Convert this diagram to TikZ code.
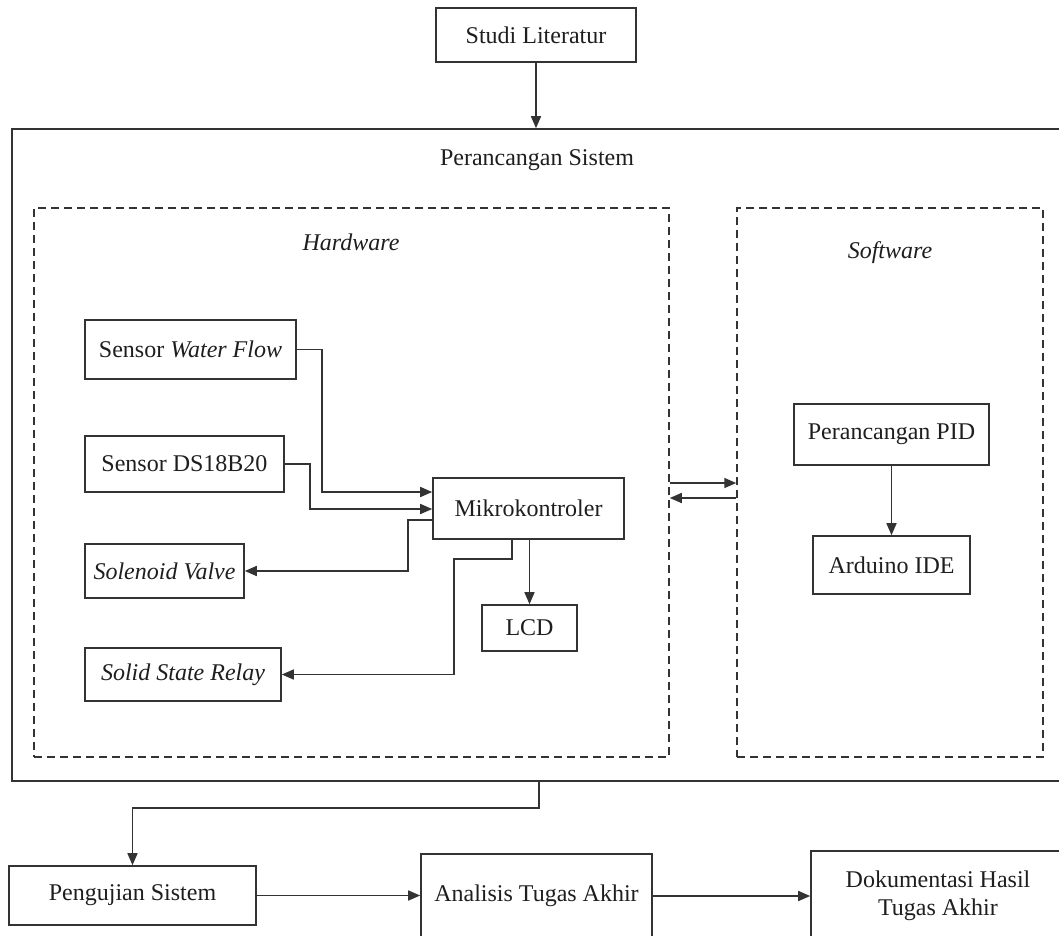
\documentclass[tikz,border=0pt]{standalone}
\usepackage{fontspec}
\setmainfont{Liberation Serif}
\usetikzlibrary{arrows.meta}
\definecolor{linec}{HTML}{333333}
\definecolor{textc}{HTML}{1E1E1E}
\tikzset{
  blk/.style={draw=linec, line width=1.6pt, inner sep=0pt, text=textc, align=center},
  grp/.style={draw=linec, line width=1.5pt, dash pattern=on 8pt off 5pt, inner sep=0pt},
  lbl/.style={inner sep=0pt, text=textc},
  arr/.style={draw=linec, line width=1.6pt, -{Triangle[length=12pt,width=10pt]}}
}
\begin{document}
\begin{tikzpicture}[x=1pt,y=-1pt,font=\fontsize{24}{28}\selectfont]
\useasboundingbox (0,0) rectangle (1059,935);
% top
\node[blk, minimum width=200pt, minimum height=54pt] (studi) at (536,35) {Studi Literatur};
% outer system box
\node[blk, minimum width=1050pt, minimum height=652pt] (sys) at (537,455) {};
\node[lbl] (systitle) at (537,160) {Perancangan Sistem};
% groups
\node[grp, minimum width=635pt, minimum height=549pt] (hw) at (351.5,482.5) {};
\node[grp, minimum width=306pt, minimum height=549pt] (sw) at (890,482.5) {};
\node[lbl] (hwt) at (351,242) {\itshape Hardware};
\node[lbl] (swt) at (890,253) {\itshape Software};
% hardware blocks
\node[blk, minimum width=211pt, minimum height=59pt] (wf) at (190.5,349.5) {Sensor \textit{Water Flow}};
\node[blk, minimum width=199pt, minimum height=56pt] (ds) at (184.5,464) {Sensor DS18B20};
\node[blk, minimum width=159pt, minimum height=54pt] (sv) at (164.5,571) {\textit{Solenoid Valve}};
\node[blk, minimum width=196pt, minimum height=53pt] (ssr) at (183,674.5) {\textit{Solid State Relay}};
\node[blk, minimum width=191pt, minimum height=61pt] (mk) at (528.5,508.5) {Mikrokontroler};
\node[blk, minimum width=95pt, minimum height=46pt] (lcd) at (529.5,628) {LCD};
% software blocks
\node[blk, minimum width=195pt, minimum height=61pt] (pid) at (891.5,434.5) {Perancangan PID};
\node[blk, minimum width=157pt, minimum height=58pt] (ard) at (891.5,565) {Arduino IDE};
% bottom row
\node[blk, minimum width=247pt, minimum height=59pt] (peng) at (132.5,895.5) {Pengujian Sistem};
\node[blk, minimum width=231pt, minimum height=84pt] (ana) at (536.5,896) {Analisis Tugas Akhir};
\node[blk, minimum width=254pt, minimum height=90pt] (dok) at (938,896) {Dokumentasi Hasil\\Tugas Akhir};
% connectors
\draw[arr] (studi.south) -- (studi.south |- sys.north);
\draw[arr] (wf.east) -| (322,492) -- (mk.west |- 0,492);
\draw[arr] (ds.east) -| (310,509) -- (mk.west |- 0,509);
\draw[arr] (mk.west |- 0,520) -| (408,571) -- (sv.east);
\draw[arr] (mk.south -| 512,0) |- (454,559) |- (ssr.east);
\draw[arr] (mk.south -| lcd.north) -- (lcd.north);
\draw[arr] (hw.east |- 0,483) -- (sw.west |- 0,483);
\draw[arr] (sw.west |- 0,498) -- (hw.east |- 0,498);
\draw[arr] (pid.south) -- (ard.north);
\draw[arr] (sys.south -| 539,0) |- (peng.north |- 0,808) -- (peng.north);
\draw[arr] (peng.east) -- (peng.east -| ana.west);
\draw[arr] (ana.east) -- (ana.east -| dok.west);
\end{tikzpicture}
\end{document}
